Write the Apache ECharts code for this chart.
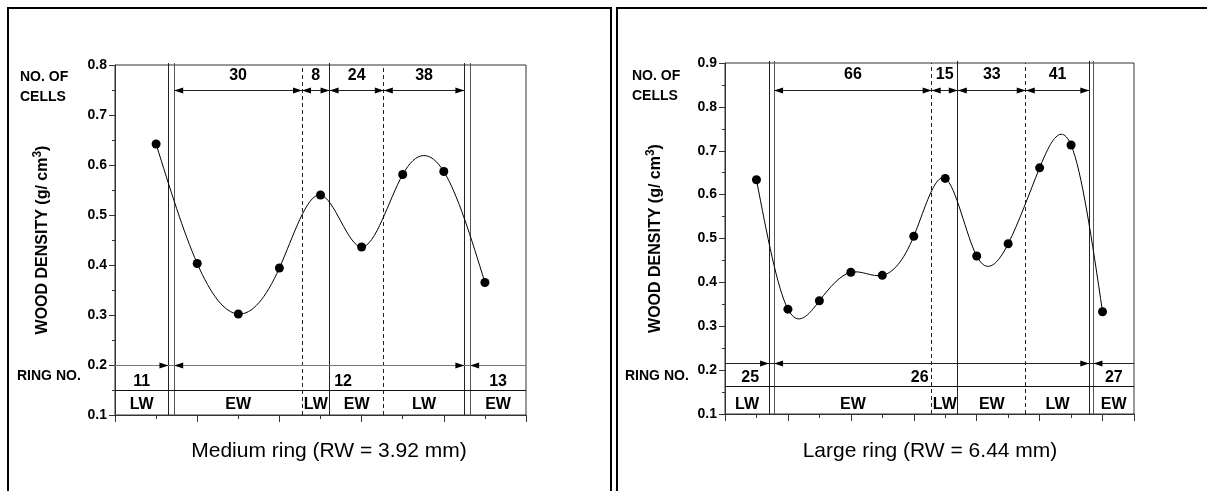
<!DOCTYPE html>
<html>
<head>
<meta charset="utf-8">
<script src="https://cdn.jsdelivr.net/npm/echarts@6/dist/echarts.min.js"></script>
<style>
  html, body { margin: 0; padding: 0; background: #fff; }
  #main { width: 1207px; height: 491px; }
</style>
</head>
<body>
<div id="main"></div>
<script>
// medium ring (left panel)
var medPos = [1, 2, 3, 4, 5, 6, 7, 8, 9];
var medDensity = [0.642, 0.403, 0.302, 0.394, 0.540, 0.436, 0.581, 0.587, 0.365];
var medBounds = [1.30, 1.44, 4.55, 5.22, 6.54, 8.50, 8.64];
var medCells = ['30', '8', '24', '38'];
var medRings = ['11', '12', '13'];
var medRingPos = [0.65, 5.55, 9.32];
var medWood = ['LW', 'EW', 'LW', 'EW', 'LW', 'EW'];
var medYRange = [0.1, 0.8];
var medXRange = [0, 10];

// large ring (right panel)
var lrgPos = [1, 2, 3, 4, 5, 6, 7, 8, 9, 10, 11, 12];
var lrgDensity = [0.634, 0.339, 0.358, 0.423, 0.416, 0.505, 0.637, 0.460, 0.488, 0.661, 0.713, 0.333];
var lrgBounds = [1.40, 1.56, 6.57, 7.40, 9.56, 11.58, 11.71];
var lrgCells = ['66', '15', '33', '41'];
var lrgRings = ['25', '26', '27'];
var lrgRingPos = [0.80, 6.19, 12.36];
var lrgWood = ['LW', 'EW', 'LW', 'EW', 'LW', 'EW'];
var lrgYRange = [0.1, 0.9];
var lrgXRange = [0, 13];

var FONT = '"Liberation Sans", Arial, sans-serif';

var panels = [
  { pos: medPos, dens: medDensity, bounds: medBounds, cells: medCells, rings: medRings, ringPos: medRingPos,
    wood: medWood, yr: medYRange, xr: medXRange,
    lv: { cellArrow: 0.75, cellText: 0.779, ringArrow: 0.2, ringLine: 0.15, ringText: 0.167, woodText: 0.12 },
    ringColor: '#777',
    grid: { left: 115, top: 65, width: 411, height: 350 }, nameGap: 62 },
  { pos: lrgPos, dens: lrgDensity, bounds: lrgBounds, cells: lrgCells, rings: lrgRings, ringPos: lrgRingPos,
    wood: lrgWood, yr: lrgYRange, xr: lrgXRange,
    lv: { cellArrow: 0.837, cellText: 0.873, ringArrow: 0.214, ringLine: 0.162, ringText: 0.182, woodText: 0.121 },
    ringColor: '#222',
    grid: { left: 725, top: 63, width: 409, height: 351 }, nameGap: 59 }
];

function crisp(v) { return Math.round(v - 0.5) + 0.5; }

// slopes of a natural cubic spline through the points (like Origin's spline connector)
function splineSlopes(xs, ys) {
  var n = xs.length, h = [], M = [], a = [], bb = [], c = [], r = [], m = [], i;
  for (i = 0; i < n; i++) M[i] = 0;
  for (i = 0; i < n - 1; i++) h[i] = xs[i + 1] - xs[i];
  for (i = 1; i < n - 1; i++) {
    a[i] = h[i - 1]; bb[i] = 2 * (h[i - 1] + h[i]); c[i] = h[i];
    r[i] = 6 * ((ys[i + 1] - ys[i]) / h[i] - (ys[i] - ys[i - 1]) / h[i - 1]);
  }
  for (i = 2; i < n - 1; i++) { var w = a[i] / bb[i - 1]; bb[i] -= w * c[i - 1]; r[i] -= w * r[i - 1]; }
  for (i = n - 2; i >= 1; i--) M[i] = (r[i] - c[i] * M[i + 1]) / bb[i];
  for (i = 0; i < n - 1; i++) m[i] = (ys[i + 1] - ys[i]) / h[i] - h[i] * (2 * M[i] + M[i + 1]) / 6;
  m[n - 1] = (ys[n - 1] - ys[n - 2]) / h[n - 2] + h[n - 2] * (M[n - 2] + 2 * M[n - 1]) / 6;
  return m;
}

function makeCurve(p) {
  var m = splineSlopes(p.pos, p.dens);
  return function (params, api) {
    var i = params.dataIndex;
    if (i >= p.pos.length - 1) return null;
    var x0 = p.pos[i], x1 = p.pos[i + 1], y0 = p.dens[i], y1 = p.dens[i + 1], h = x1 - x0;
    var s = api.coord([x0, y0]), e = api.coord([x1, y1]);
    var c1 = api.coord([x0 + h / 3, y0 + m[i] * h / 3]), c2 = api.coord([x1 - h / 3, y1 - m[i + 1] * h / 3]);
    return { type: 'bezierCurve',
      shape: { x1: s[0], y1: s[1], x2: e[0], y2: e[1], cpx1: c1[0], cpy1: c1[1], cpx2: c2[0], cpy2: c2[1] },
      style: { stroke: '#000', lineWidth: 1, fill: null } };
  };
}

function makeAnnot(d) {
  return function (params, api) {
    var b = d.bounds, lv = d.lv, g = [];
    var X = function (v) { return api.coord([v, d.yr[0]])[0]; };
    var Y = function (v) { return api.coord([d.xr[0], v])[1]; };
    function line(x1, y1, x2, y2, col, dash) {
      g.push({ type: 'line', shape: { x1: x1, y1: y1, x2: x2, y2: y2 },
        style: { stroke: col || '#222', lineWidth: 1, lineDash: dash ? [4, 3] : null } });
    }
    function head(x, y, dir) {
      g.push({ type: 'polygon', shape: { points: [[x, y], [x - dir * 9, y - 3], [x - dir * 9, y + 3]] },
        style: { fill: '#000' } });
    }
    function txt(s, x, y) {
      g.push({ type: 'text', x: x, y: y, style: { text: s, font: 'bold 16px ' + FONT, fill: '#000',
        align: 'center', verticalAlign: 'middle', textAlign: 'center', textVerticalAlign: 'middle' } });
    }
    // ring / zone boundaries
    b.forEach(function (v, i) {
      var x = crisp(X(v));
      line(x, Y(d.yr[0]), x, Y(d.yr[1]) - (i === 2 || i === 4 ? 0 : 2), i === 1 || i === 6 ? '#555' : '#222', i === 2 || i === 4);
    });
    // number of cells arrows
    var ya = crisp(Y(lv.cellArrow));
    line(X(b[1]), ya, X(b[5]), ya);
    head(X(b[1]), ya, -1);
    [2, 3, 4].forEach(function (i) { head(X(b[i]), ya, 1); head(X(b[i]), ya, -1); });
    head(X(b[5]), ya, 1);
    for (var i = 0; i < 4; i++) txt(d.cells[i], (X(b[i + 1]) + X(b[i + 2])) / 2, Y(lv.cellText));
    // ring number arrows
    var yr = crisp(Y(lv.ringArrow));
    line(X(d.xr[0]), yr, X(d.xr[1]), yr, d.ringColor);
    head(X(b[0]), yr, 1); head(X(b[1]), yr, -1);
    head(X(b[5]), yr, 1); head(X(b[6]), yr, -1);
    var yl = crisp(Y(lv.ringLine));
    line(X(d.xr[0]), yl, X(d.xr[1]), yl, '#111');
    d.rings.forEach(function (s, k) { txt(s, X(d.ringPos[k]), Y(lv.ringText)); });
    // latewood / earlywood zones
    var zones = [[d.xr[0], b[0]], [b[1], b[2]], [b[2], b[3]], [b[3], b[4]], [b[4], b[5]], [b[6], d.xr[1]]];
    d.wood.forEach(function (s, k) { txt(s, (X(zones[k][0]) + X(zones[k][1])) / 2, Y(lv.woodText)); });
    return { type: 'group', children: g };
  };
}

var grids = [], xAxes = [], yAxes = [], series = [];
panels.forEach(function (p, k) {
  grids.push({ left: p.grid.left, top: p.grid.top, width: p.grid.width, height: p.grid.height,
    show: true, borderColor: '#333', borderWidth: 1, backgroundColor: 'transparent' });
  var axLine = { lineStyle: { color: '#333', width: 1 } };
  xAxes.push({ type: 'value', gridIndex: k, position: 'bottom', min: p.xr[0], max: p.xr[1], interval: 1,
    axisLine: axLine, axisTick: { length: 4, lineStyle: { color: '#333' } },
    axisLabel: { show: false }, splitLine: { show: false } });
  xAxes.push({ type: 'value', gridIndex: k, position: 'bottom', min: p.xr[0], max: p.xr[1], interval: 2,
    axisLine: { show: false }, axisTick: { length: 7, lineStyle: { color: '#333' } },
    axisLabel: { show: false }, splitLine: { show: false } });
  yAxes.push({ type: 'value', gridIndex: k, min: p.yr[0], max: p.yr[1], interval: 0.1,
    axisLine: { show: true, lineStyle: { color: '#333', width: 1 } },
    axisTick: { show: true, length: 6, lineStyle: { color: '#333' } },
    minorTick: { show: true, splitNumber: 2, length: 3, lineStyle: { color: '#333' } },
    splitLine: { show: false },
    axisLabel: { margin: 8, color: '#000', fontWeight: 'bold', fontSize: 14, fontFamily: FONT,
      formatter: function (v) { return v.toFixed(1); } },
    name: 'WOOD DENSITY (g/ cm{s|3})', nameLocation: 'middle', nameRotate: 90, nameGap: p.nameGap,
    nameTextStyle: { color: '#000', fontWeight: 'bold', fontSize: 16, fontFamily: FONT,
      rich: { s: { fontSize: 12, fontWeight: 'bold', fontFamily: FONT, color: '#000', verticalAlign: 'top', padding: [0, 0, 9, 0] } } } });
  series.push({ type: 'custom', xAxisIndex: k * 2, yAxisIndex: k, silent: true, z: 1,
    data: [[p.xr[0], p.yr[0]]], renderItem: makeAnnot(p) });
  series.push({ type: 'custom', xAxisIndex: k * 2, yAxisIndex: k, silent: true, z: 2,
    data: p.pos.map(function (x, i) { return [x, p.dens[i]]; }), renderItem: makeCurve(p) });
  series.push({ type: 'scatter', xAxisIndex: k * 2, yAxisIndex: k, z: 3,
    symbol: 'circle', symbolSize: 9, itemStyle: { color: '#000', opacity: 1 },
    data: p.pos.map(function (x, i) { return [x, p.dens[i]]; }) });
});

function label(s, x, y, opt) {
  return { type: 'text', x: x, y: y, style: Object.assign({ text: s, font: 'bold 14px ' + FONT, fill: '#000',
    lineHeight: 20, align: 'left', verticalAlign: 'middle', textAlign: 'left', textVerticalAlign: 'middle' }, opt || {}) };
}

var option = {
  animation: false,
  backgroundColor: '#fff',
  grid: grids,
  xAxis: xAxes,
  yAxis: yAxes,
  series: series,
  graphic: [
    { type: 'rect', shape: { x: 8, y: 8, width: 603, height: 530 }, style: { fill: null, stroke: '#000', lineWidth: 2 } },
    { type: 'rect', shape: { x: 617, y: 8, width: 600, height: 530 }, style: { fill: null, stroke: '#000', lineWidth: 2 } },
    label('NO. OF\nCELLS', 20, 87),
    label('RING NO.', 17, 376),
    label('NO. OF\nCELLS', 632, 86),
    label('RING NO.', 625, 376),
    label('Medium ring (RW = 3.92 mm)', 329, 451, { font: '21px ' + FONT, align: 'center', textAlign: 'center' }),
    label('Large ring (RW = 6.44 mm)', 930, 451, { font: '21px ' + FONT, align: 'center', textAlign: 'center' })
  ]
};

var chart = echarts.init(document.getElementById('main'));
chart.setOption(option);
</script>
</body>
</html>
